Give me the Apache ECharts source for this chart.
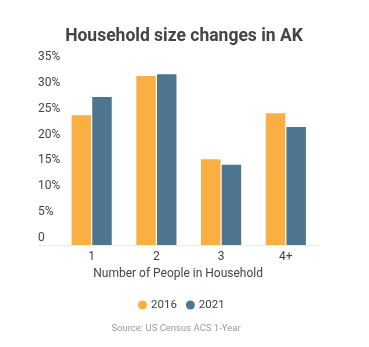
<!DOCTYPE html>
<html>
<head>
<meta charset="utf-8">
<script src="https://cdn.jsdelivr.net/npm/echarts@6/dist/echarts.min.js"></script>
<style>
  html, body { margin: 0; padding: 0; background: #ffffff; }
  #chart { width: 369px; height: 347px; }
</style>
</head>
<body>
<div id="chart"></div>
<script>
// Household size shares (percent of households) by number of people
const categories = ['1', '2', '3', '4+'];
const seriesNames = ['2016', '2021'];
const values2016 = [25.1, 32.7, 16.6, 25.5];
const values2021 = [28.6, 33.0, 15.5, 22.8];
const yTicks = [0, 5, 10, 15, 20, 25, 30, 35];

const FONT = 'Roboto, "Noto Sans", sans-serif';
const chart = echarts.init(document.getElementById('chart'), null, { renderer: 'canvas' });

chart.setOption({
  animation: false,
  backgroundColor: '#ffffff',
  title: [
    {
      text: 'Household size changes in AK',
      left: 179, top: 23, textAlign: 'center',
      textStyle: { fontFamily: FONT, fontSize: 17.5, fontWeight: 'bold', color: '#444444' }
    },
    {
      text: 'Source: US Census ACS 1-Year',
      left: 171, top: 319, textAlign: 'center',
      textStyle: { fontFamily: FONT, fontSize: 9.5, fontWeight: 'normal', color: '#9a9a9a' }
    }
  ],
  legend: {
    data: seriesNames,
    left: 133, top: 294,
    icon: 'circle', itemWidth: 9, itemHeight: 9, itemGap: 9,
    textStyle: { fontFamily: FONT, fontSize: 11.5, color: '#444444', padding: [0, 0, 0, -1] }
  },
  grid: [
    { left: 59.3, right: 50.8, top: 64, bottom: 102 },
    { left: 38, right: 50.8, top: 64, bottom: 102 }
  ],
  xAxis: [
    {
      type: 'category', gridIndex: 0, data: categories,
      axisLine: { show: false }, axisTick: { show: false },
      axisLabel: { fontFamily: FONT, fontSize: 12, color: '#444444', margin: 6 }
    },
    {
      // baseline spanning under the tick labels, carrying the axis title
      type: 'value', gridIndex: 1, min: 0, max: 1,
      axisLine: { show: true, lineStyle: { color: '#ebebeb', width: 1 } },
      axisTick: { show: false }, axisLabel: { show: false }, splitLine: { show: false },
      name: 'Number of People in Household', nameLocation: 'middle', nameGap: 23,
      nameTextStyle: { fontFamily: FONT, fontSize: 12, color: '#444444' }
    }
  ],
  yAxis: [
    {
      type: 'value', gridIndex: 0, min: yTicks[0], max: yTicks[yTicks.length - 1], interval: 5,
      axisLine: { show: false }, axisTick: { show: false }, splitLine: { show: false },
      axisLabel: {
        fontFamily: FONT, fontSize: 12, color: '#444444',
        align: 'left', verticalAlign: 'bottom', margin: 21.3, padding: [0, 0, 1, 0],
        formatter: v => (v === 0 ? '0' : v + '%')
      }
    },
    {
      type: 'value', gridIndex: 1, min: 0, max: 1, show: false
    }
  ],
  series: [
    {
      name: seriesNames[0], type: 'bar', xAxisIndex: 0, yAxisIndex: 0,
      data: values2016, barWidth: 19.5, barGap: '6%',
      itemStyle: { color: '#f9af41' }
    },
    {
      name: seriesNames[1], type: 'bar', xAxisIndex: 0, yAxisIndex: 0,
      data: values2021, barWidth: 19.5, barGap: '6%',
      itemStyle: { color: '#4e7690' }
    }
  ]
});
</script>
</body>
</html>
